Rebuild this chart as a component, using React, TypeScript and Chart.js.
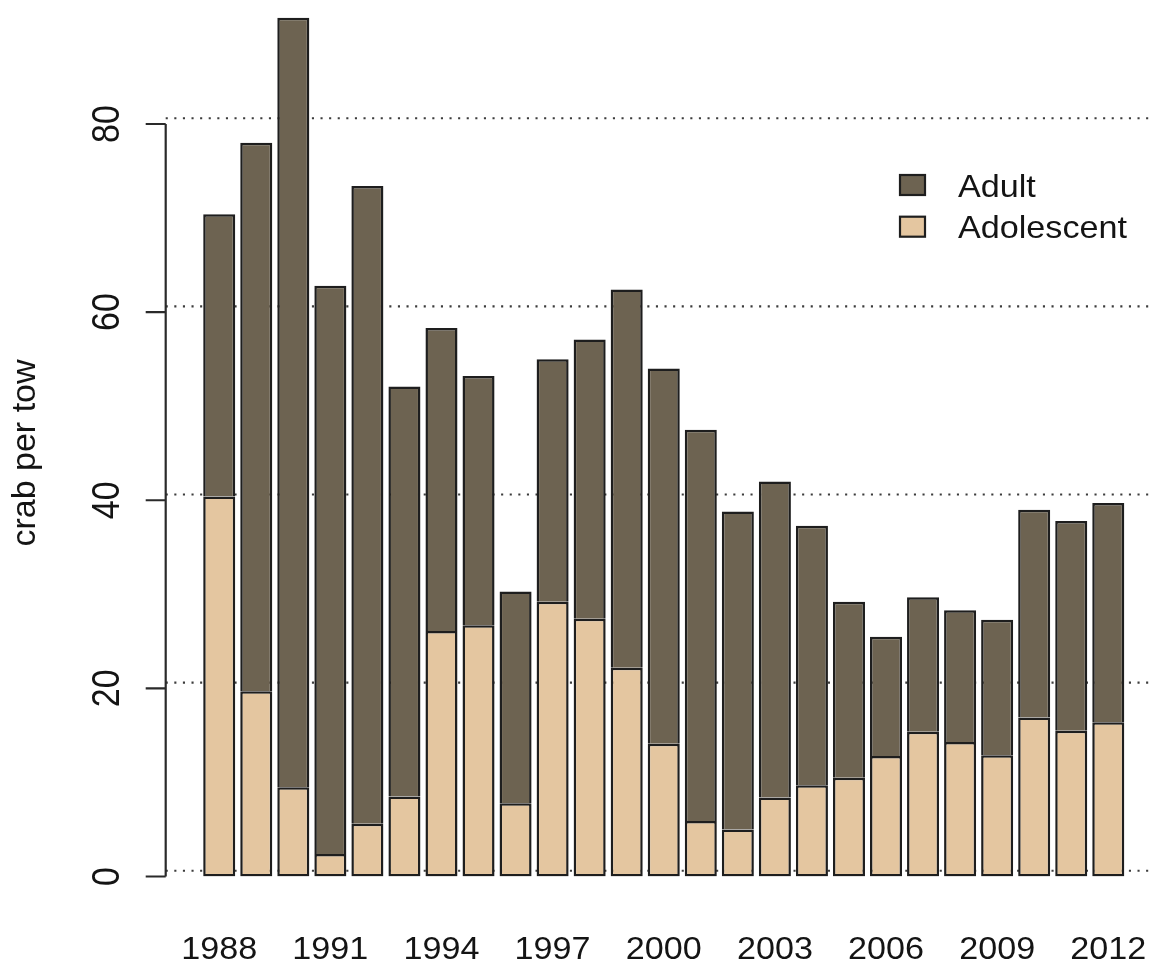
import { useEffect, useRef } from "react";
import { Chart, registerables } from "chart.js";

Chart.register(...registerables);

// Survey catch, crab per tow, split by maturity stage
const years = [
  "1988", "1989", "1990", "1991", "1992", "1993", "1994", "1995", "1996",
  "1997", "1998", "1999", "2000", "2001", "2002", "2003", "2004", "2005",
  "2006", "2007", "2008", "2009", "2010", "2011", "2012",
];
const adolescent = [
  40.4, 19.7, 9.5, 2.4, 5.6, 8.5, 26.1, 26.7, 7.8, 29.2, 27.4, 22.2, 14.1,
  5.9, 5.0, 8.4, 9.7, 10.5, 12.8, 15.4, 14.3, 12.9, 16.9, 15.5, 16.4,
];
const adult = [
  30.0, 58.3, 81.8, 60.4, 67.8, 43.6, 32.2, 26.5, 22.5, 25.8, 29.7, 40.2, 39.9,
  41.6, 33.8, 33.6, 27.6, 18.7, 12.7, 14.3, 14.0, 14.4, 22.1, 22.3, 23.3,
];
const yTicks = [0, 20, 40, 60, 80];
const xTickLabels = ["1988", "1991", "1994", "1997", "2000", "2003", "2006", "2009", "2012"];
const yTitle = "crab per tow";

const ADULT_FILL = "#6d6351";
const ADOLESCENT_FILL = "#e4c6a0";
const EDGE = "#1e1e1e";
const INK = "#141414";
const FONT = '"Liberation Sans", Arial, Helvetica, sans-serif';
const STRETCH = 1.12;

// Axes, dotted reference lines, year labels and key, drawn in base-graphics style
const basePlot = {
  id: "basePlot",
  beforeDatasetsDraw(chart: any) {
    const { ctx, chartArea, scales } = chart;
    const y = scales.y;
    const axisX = chartArea.left - 35;
    ctx.save();
    ctx.strokeStyle = "#3c3c3c";
    ctx.lineWidth = 2.1;
    ctx.setLineDash([2.1, 6.5]);
    for (const v of yTicks) {
      const py = y.getPixelForValue(v) - 5.7;
      ctx.beginPath();
      ctx.moveTo(axisX, py);
      ctx.lineTo(chart.width, py);
      ctx.stroke();
    }
    ctx.restore();
  },
  afterDraw(chart: any) {
    const { ctx, chartArea, scales } = chart;
    const x = scales.x;
    const y = scales.y;
    const axisX = chartArea.left - 35;
    ctx.save();

    // y axis line and ticks
    ctx.strokeStyle = "#2a2a2a";
    ctx.lineWidth = 2.2;
    ctx.setLineDash([]);
    const y0 = y.getPixelForValue(yTicks[0]);
    const y1 = y.getPixelForValue(yTicks[yTicks.length - 1]);
    ctx.beginPath();
    ctx.moveTo(axisX, y0);
    ctx.lineTo(axisX, y1);
    for (const v of yTicks) {
      const py = y.getPixelForValue(v);
      ctx.moveTo(axisX - 20, py);
      ctx.lineTo(axisX, py);
    }
    ctx.stroke();

    ctx.fillStyle = INK;

    // y tick labels, rotated
    ctx.font = `34px ${FONT}`;
    ctx.textAlign = "center";
    ctx.textBaseline = "alphabetic";
    for (const v of yTicks) {
      const py = y.getPixelForValue(v);
      ctx.save();
      ctx.translate(axisX - 46.5, py);
      ctx.scale(STRETCH, 1);
      ctx.rotate(-Math.PI / 2);
      ctx.fillText(String(v), 0, 0);
      ctx.restore();
    }

    // y axis title
    ctx.save();
    ctx.font = `34px ${FONT}`;
    ctx.translate(35, 453);
    ctx.rotate(-Math.PI / 2);
    ctx.fillText(yTitle, 0, 0);
    ctx.restore();

    // year labels
    ctx.font = `30.5px ${FONT}`;
    years.forEach((yr, i) => {
      if (!xTickLabels.includes(yr)) return;
      const px = x.getPixelForValue(i);
      ctx.save();
      ctx.translate(px, chartArea.bottom + 82);
      ctx.scale(STRETCH, 1);
      ctx.fillText(yr, 0, 0);
      ctx.restore();
    });

    // key: Adult above Adolescent
    const ds = chart.data.datasets;
    const entries = [ds[1], ds[0]];
    ctx.textAlign = "left";
    entries.forEach((d: any, i: number) => {
      const top = 175 + i * 41.7;
      ctx.fillStyle = d.backgroundColor;
      ctx.fillRect(900, top, 25, 20);
      ctx.strokeStyle = EDGE;
      ctx.lineWidth = 2.2;
      ctx.strokeRect(900, top, 25, 20);
      ctx.fillStyle = INK;
      ctx.save();
      ctx.translate(958, top + 21.5);
      ctx.scale(STRETCH, 1);
      ctx.font = `30.5px ${FONT}`;
      ctx.fillText(d.label, 0, 0);
      ctx.restore();
    });

    ctx.restore();
  },
};

export default function App() {
  const ref = useRef<HTMLCanvasElement>(null);

  useEffect(() => {
    document.body.style.margin = "0";
    document.body.style.overflow = "hidden";
    const chart = new Chart(ref.current as HTMLCanvasElement, {
      type: "bar",
      data: {
        labels: years,
        datasets: [
          {
            label: "Adolescent",
            data: adolescent,
            backgroundColor: ADOLESCENT_FILL,
            borderColor: EDGE,
            borderWidth: 2.5,
            borderSkipped: false,
            inflateAmount: 0,
            barPercentage: 0.865,
            categoryPercentage: 1,
          },
          {
            label: "Adult",
            data: adult,
            backgroundColor: ADULT_FILL,
            borderColor: EDGE,
            borderWidth: 2.5,
            borderSkipped: "start",
            inflateAmount: 0,
            barPercentage: 0.865,
            categoryPercentage: 1,
          },
        ],
      },
      options: {
        responsive: false,
        animation: false,
        devicePixelRatio: 1,
        layout: { padding: { left: 200.7, right: 26.2, top: 1.7, bottom: 92.5 } },
        plugins: {
          legend: { display: false },
          tooltip: { enabled: false },
        },
        scales: {
          x: { stacked: true, display: false },
          y: { stacked: true, display: false, min: 0, max: 93 },
        },
      },
      plugins: [basePlot],
    });
    return () => chart.destroy();
  }, []);

  return (
    <canvas
      ref={ref}
      width={1153}
      height={969}
      style={{ display: "block", width: 1153, height: 969 }}
    />
  );
}
